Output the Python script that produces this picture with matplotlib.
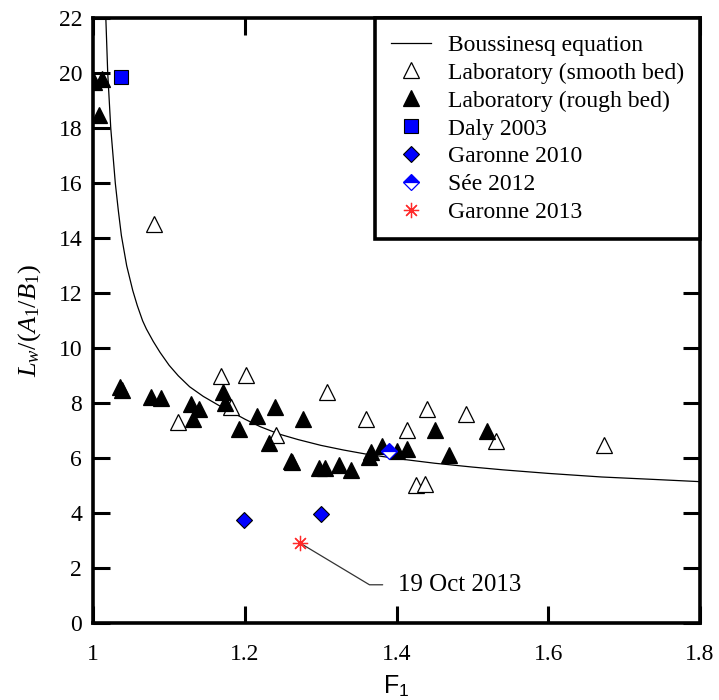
import matplotlib
matplotlib.use("Agg")
import matplotlib.pyplot as plt

plt.rcParams["font.family"] = ["Liberation Serif", "DejaVu Serif"]
plt.rcParams["mathtext.fontset"] = "custom"
plt.rcParams["mathtext.rm"] = "Liberation Serif"
plt.rcParams["mathtext.it"] = "Liberation Serif:italic"
plt.rcParams["mathtext.sf"] = "Liberation Sans"

# Boussinesq equation curve (F1, Lw/(A1/B1))
bous_F = [1.0165, 1.019, 1.023, 1.029, 1.033, 1.037, 1.044, 1.052, 1.058,
          1.065, 1.070, 1.079, 1.088, 1.100, 1.112, 1.127, 1.145, 1.165,
          1.180, 1.200, 1.220, 1.245, 1.270, 1.300, 1.330, 1.360, 1.400,
          1.450, 1.500, 1.540, 1.600, 1.670, 1.740, 1.800]
bous_L = [22.0, 20.0, 18.0, 16.0, 15.0, 14.1, 13.0, 12.1, 11.55,
          11.0, 10.7, 10.25, 9.85, 9.38, 9.0, 8.6, 8.25, 7.93,
          7.72, 7.42, 7.15, 6.88, 6.68, 6.47, 6.3, 6.15, 5.99,
          5.82, 5.68, 5.58, 5.45, 5.32, 5.23, 5.15]

# Laboratory, smooth bed
smooth_F = [1.080, 1.168, 1.201, 1.111, 1.181, 1.241, 1.308, 1.360,
            1.440, 1.414, 1.492, 1.531, 1.426, 1.438, 1.673]
smooth_L = [14.52, 8.99, 9.03, 7.33, 7.88, 6.85, 8.40, 7.42,
            7.78, 7.03, 7.61, 6.63, 5.03, 5.05, 6.49]

# Laboratory, rough bed
rough_F = [1.001, 1.011, 1.0075, 1.035, 1.038, 1.076, 1.089, 1.129,
           1.139, 1.131, 1.171, 1.173, 1.192, 1.216, 1.240, 1.231,
           1.260, 1.262, 1.277, 1.297, 1.305, 1.324, 1.340, 1.364,
           1.366, 1.380, 1.400, 1.414, 1.450, 1.469, 1.519]
rough_L = [19.69, 19.79, 18.48, 8.59, 8.48, 8.24, 8.18, 7.96,
           7.79, 7.42, 8.42, 8.00, 7.05, 7.54, 7.88, 6.57,
           5.91, 5.85, 7.42, 5.64, 5.64, 5.76, 5.57, 6.06,
           6.24, 6.45, 6.28, 6.34, 7.03, 6.12, 7.00]

# Field observations
daly_F, daly_L = [1.036], [19.85]
gar10_F, gar10_L = [1.199, 1.300], [3.76, 3.96]
see_F, see_L = [1.390], [6.27]
gar13_F, gar13_L = [1.273], [2.91]

xticks = [1.0, 1.2, 1.4, 1.6, 1.8]
xticklabels = ["1", "1.2", "1.4", "1.6", "1.8"]
yticks = list(range(0, 23, 2))

fig = plt.figure(figsize=(7.19, 7.0), dpi=100)
ax = fig.add_axes([0.1298, 0.1096, 0.8438, 0.8643])

ax.plot(bous_F, bous_L, color="black", lw=0.9, label="Boussinesq equation", zorder=2)
ax.plot(smooth_F, smooth_L, ls="none", marker="^", ms=11, mfc="white",
        mec="black", mew=0.9, label="Laboratory (smooth bed)", zorder=3)
ax.plot(rough_F, rough_L, ls="none", marker="^", ms=11, mfc="black",
        mec="black", mew=0.9, label="Laboratory (rough bed)", zorder=3)
ax.plot(daly_F, daly_L, ls="none", marker="s", ms=10.5, mfc="blue",
        mec="black", mew=0.8, label="Daly 2003", zorder=4)
ax.plot(gar10_F, gar10_L, ls="none", marker="D", ms=8.2, mfc="blue",
        mec="black", mew=0.8, label="Garonne 2010", zorder=4)
ax.plot(see_F, see_L, ls="none", marker="D", ms=8.2, mfc="blue",
        mfcalt="white", fillstyle="top", mec="blue", mew=0.9,
        label="Sée 2012", zorder=4)
ax.plot(gar13_F, gar13_L, ls="none", marker=(8, 2, 0), ms=11,
        mec="#ff2a2a", mew=0.9, label="Garonne 2013", zorder=4)

ax.annotate("19 Oct 2013", xy=(gar13_F[0], gar13_L[0]), xytext=(1.4017, 1.40),
            fontsize=18, va="center", ha="left",
            arrowprops=dict(arrowstyle="-", color="#333333", lw=0.9,
                            connectionstyle="angle,angleA=0,angleB=-31,rad=0",
                            shrinkA=9, shrinkB=0))

ax.set_xlim(1.0, 1.8)
ax.set_ylim(0, 22)
ax.set_xticks(xticks)
ax.set_xticklabels(xticklabels)
ax.set_yticks(yticks)

for s in ax.spines.values():
    s.set_linewidth(2.6)
ax.tick_params(axis="both", which="major", direction="in", length=12,
               width=2.2, labelsize=17, top=True, right=True)
ax.tick_params(axis="x", pad=15)
ax.tick_params(axis="y", pad=8)

ax.set_xlabel(r"$\mathsf{F}_\mathsf{1}$", fontsize=18, labelpad=6)
ax.set_ylabel(r"$L_w/(A_1/B_1)$", fontsize=19, labelpad=11)

leg = ax.legend(loc="upper right", bbox_to_anchor=(1.0, 1), borderaxespad=0,
                fontsize=17, frameon=True, fancybox=False, framealpha=1,
                edgecolor="black", handlelength=1.7, handletextpad=0.7,
                borderpad=0.68, labelspacing=0.27, numpoints=1)
leg.get_frame().set_linewidth(2.6)

fig.savefig("out.png", dpi=100)
